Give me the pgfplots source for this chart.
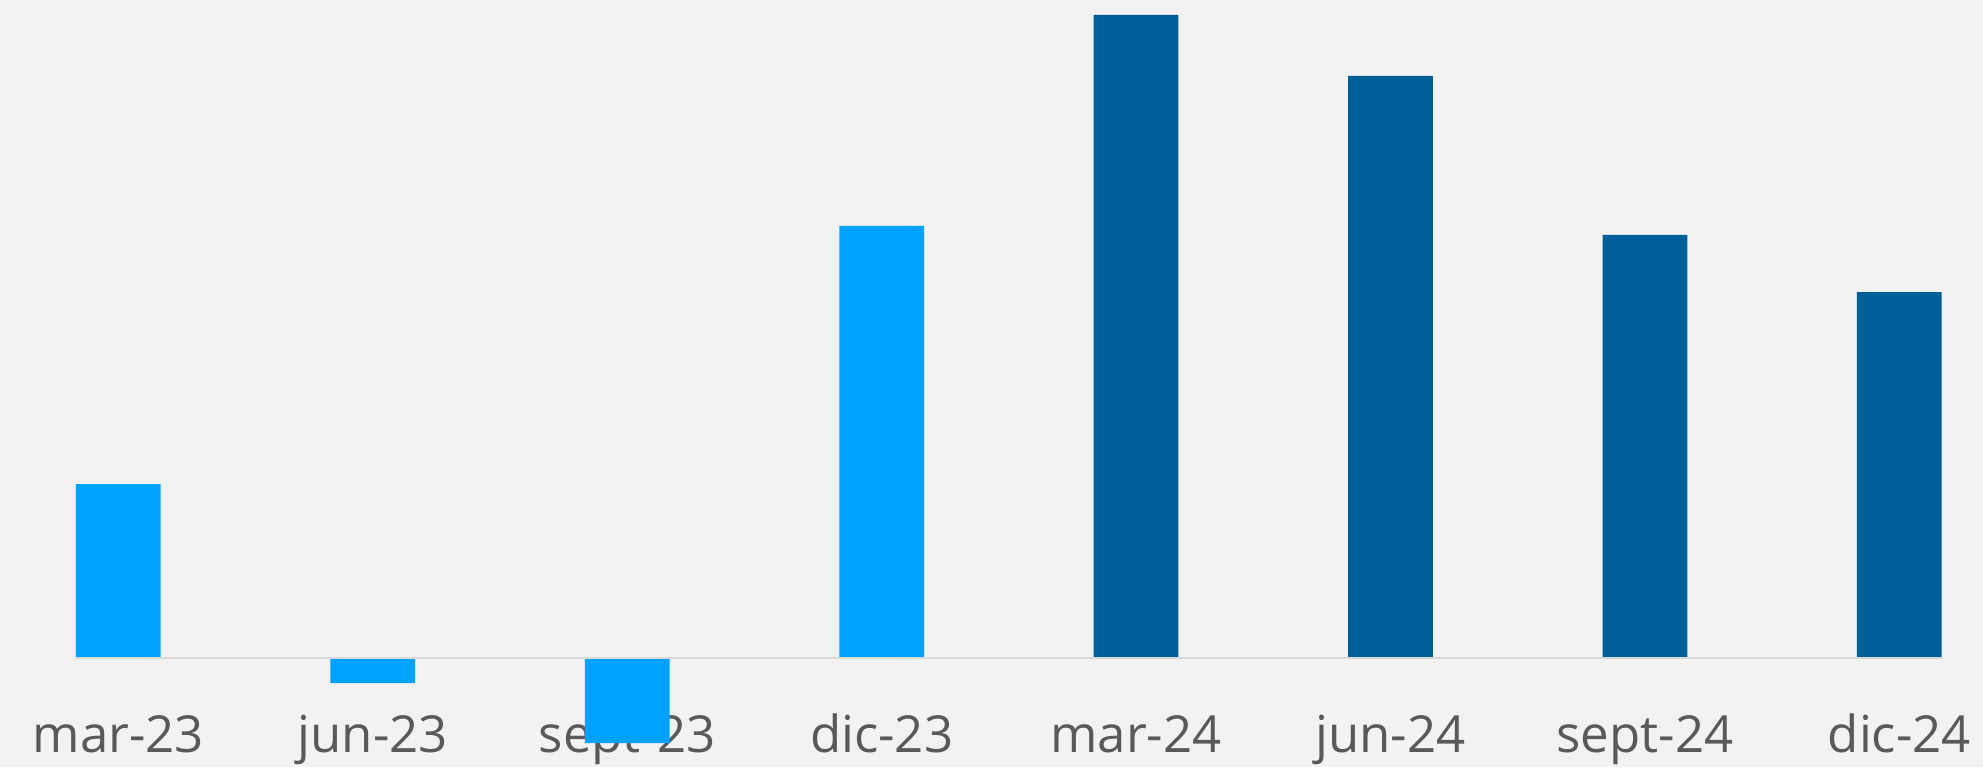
\documentclass[border=0pt]{standalone}
\usepackage{pgfplots}
\pgfplotsset{compat=1.18}
\usepackage{fontspec}
\setmainfont{Open Sans}
\definecolor{bg}{HTML}{F2F2F2}
\definecolor{lightbar}{HTML}{00A2FF}
\definecolor{darkbar}{HTML}{005F96}
\definecolor{labelgray}{HTML}{595959}
\definecolor{axisgray}{HTML}{D9D9D9}
\begin{document}
\begin{tikzpicture}
\path[use as bounding box, fill=bg] (0,0) rectangle (991.5pt,383.5pt);
\begin{axis}[
  at={(38pt,0pt)}, anchor=south west,
  scale only axis,
  width=932.85pt, height=383.5pt,
  xmin=-0.1665, xmax=7.1665,
  ymin=-1.09, ymax=6.58,
  ybar, bar width=0.333, bar shift=0pt,
  axis line style={draw=none},
  major tick length=0pt,
  ytick=\empty,
  xtick={0,1,2,3,4,5,6,7},
  xticklabels={mar-23,jun-23,sept-23,dic-23,mar-24,jun-24,sept-24,dic-24},
  xticklabel style={anchor=base, yshift=7.5pt, font=\fontsize{25.5}{30}\selectfont, text=labelgray},
  clip=false,
]
\addplot[fill=lightbar, draw=none] coordinates {(0,1.74) (1,-0.25) (2,-0.85) (3,4.32)};
\addplot[fill=darkbar, draw=none] coordinates {(4,6.43) (5,5.82) (6,4.23) (7,3.66)};
\draw[axisgray, line width=0.75pt] (axis cs:-0.1665,0) -- (axis cs:7.1665,0);
\end{axis}
\end{tikzpicture}
\end{document}
